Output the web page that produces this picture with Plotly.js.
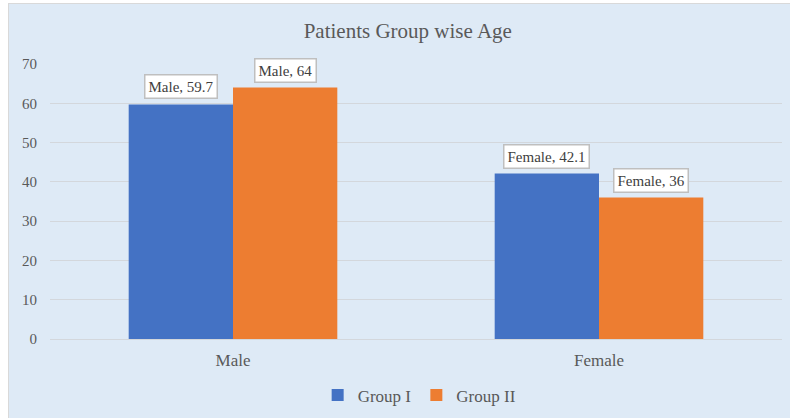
<!DOCTYPE html>
<html>
<head>
<meta charset="utf-8">
<script src="https://cdn.plot.ly/plotly-3.0.1.min.js"></script>
<style>
  html, body { margin: 0; padding: 0; background: #ffffff; width: 790px; height: 418px; overflow: hidden; }
  #chart { position: absolute; left: 8px; top: 3px; width: 782px; height: 415px;
           border-left: 1px solid #d9d9d9; border-top: 1px solid #d9d9d9; }
</style>
</head>
<body>
<div id="chart"></div>
<script>
const categories = ["Male", "Female"];
const seriesNames = ["Group I", "Group II"];
const groupI = [59.7, 42.1];
const groupII = [64, 36];
const yTicks = [0, 10, 20, 30, 40, 50, 60, 70];

const colors = ["#4472C4", "#ED7D31"];
const font = "Liberation Serif, Times New Roman, serif";
const bargap = 0.43;
const barWidth = (1 - bargap) / 2;

const series = [groupI, groupII];
const traces = series.map((vals, i) => ({
  type: "bar",
  name: seriesNames[i],
  x: categories,
  y: vals,
  marker: { color: colors[i] },
  hoverinfo: "skip"
}));

const annotations = [];
series.forEach((vals, si) => {
  vals.forEach((v, ci) => {
    annotations.push({
      xref: "x", yref: "y",
      x: ci + (si === 0 ? -barWidth / 2 : barWidth / 2),
      y: v,
      text: categories[ci] + ", " + v,
      showarrow: false,
      yanchor: "bottom",
      yshift: 5,
      bgcolor: "#ffffff",
      bordercolor: "#BFBFBF",
      borderwidth: 1.5,
      borderpad: 3,
      font: { family: font, size: 15, color: "#404040" }
    });
  });
});

const layout = {
  width: 782, height: 415,
  paper_bgcolor: "#DEEAF6",
  plot_bgcolor: "#DEEAF6",
  margin: { l: 41, r: 9, t: 60, b: 80, autoexpand: false },
  title: {
    text: "Patients Group wise Age",
    font: { family: font, size: 21, color: "#595959" },
    x: 0.51, xanchor: "center",
    y: 0.935, yanchor: "middle"
  },
  barmode: "group",
  bargap: bargap,
  bargroupgap: 0,
  xaxis: {
    type: "category",
    showgrid: false,
    zeroline: false,
    showline: false,
    ticks: "",
    tickfont: { family: font, size: 17, color: "#595959" },
    ticklabelstandoff: 9
  },
  yaxis: {
    range: [0, 70],
    tickvals: yTicks,
    showgrid: true,
    gridcolor: "#D3D7DC",
    gridwidth: 1,
    zeroline: true,
    zerolinecolor: "#D3D7DC",
    zerolinewidth: 1,
    showline: false,
    ticks: "",
    tickfont: { family: font, size: 15, color: "#595959" },
    ticklabelstandoff: 12
  },
  showlegend: true,
  legend: {
    orientation: "h",
    x: 0.505, xanchor: "center",
    y: -0.205, yanchor: "middle",
    font: { family: font, size: 17, color: "#595959" },
    bgcolor: "rgba(0,0,0,0)",
    itemwidth: 30,
    traceorder: "normal"
  },
  annotations: annotations
};

Plotly.newPlot("chart", traces, layout, { staticPlot: true, displayModeBar: false });
</script>
</body>
</html>
